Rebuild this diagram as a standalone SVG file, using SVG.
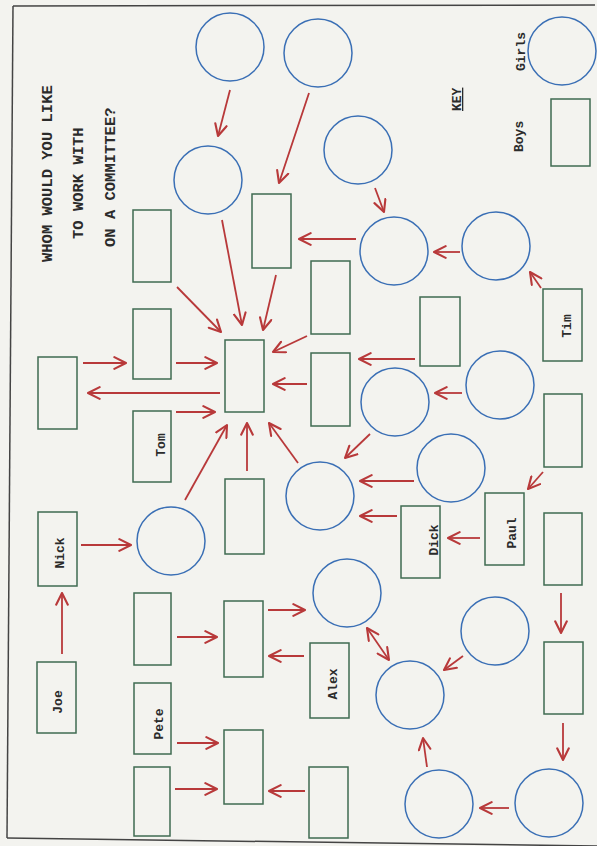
<svg xmlns="http://www.w3.org/2000/svg" width="597" height="846" viewBox="0 0 597 846">
<defs>
<marker id="ah" markerUnits="userSpaceOnUse" markerWidth="14" markerHeight="14" viewBox="0 0 12 12" refX="11" refY="6" orient="auto-start-reverse">
<path d="M1,1 L11,6 L1,11" fill="none" stroke="#b8393a" stroke-width="1.8" stroke-linecap="round" stroke-linejoin="round"/>
</marker>
</defs>
<style>
.g{fill:none;stroke:#3a6fb5;stroke-width:1.5}
.b{fill:none;stroke:#3f6b52;stroke-width:1.5}
.a{stroke:#b8393a;stroke-width:1.8;fill:none;marker-end:url(#ah)}
.t{font-family:"Liberation Mono","DejaVu Sans Mono",monospace;font-weight:bold;fill:#2b2b2b}
.lb{font-size:13px;text-anchor:middle}
.ti{font-size:15.5px}
</style>
<rect x="0" y="0" width="597" height="846" fill="#f3f3ef"/>
<g id="frame" stroke="#444" stroke-width="1.5" fill="none">
<line x1="13" y1="6" x2="595" y2="5"/>
<line x1="13" y1="6" x2="7" y2="838"/>
<line x1="7" y1="838" x2="597" y2="846"/>
</g>
<g id="title" class="t ti">
<text transform="translate(52,262) rotate(-90)">WHOM WOULD YOU LIKE</text>
<text transform="translate(83,239) rotate(-90)">TO WORK WITH</text>
<text transform="translate(115,247) rotate(-90)">ON A COMMITTEE?</text>
</g>
<g id="key">
<text class="t" font-size="13" text-decoration="underline" transform="translate(461,111) rotate(-90)">KEY</text>
<text class="t" font-size="13" transform="translate(525,71) rotate(-90)">Girls</text>
<circle class="g" cx="562" cy="51" r="34"/>
<text class="t" font-size="13" transform="translate(523,152) rotate(-90)">Boys</text>
<rect class="b" x="551" y="99" width="39" height="67"/>
</g>
<g id="connectors">
<line class="a" x1="230" y1="90" x2="218" y2="136"/>
<line class="a" x1="309" y1="93" x2="279" y2="183"/>
<line class="a" x1="375" y1="188" x2="384" y2="212"/>
<line class="a" x1="356" y1="239" x2="299" y2="239"/>
<line class="a" x1="460" y1="252" x2="434" y2="252"/>
<line class="a" x1="541" y1="288" x2="530" y2="272"/>
<line class="a" x1="177" y1="287" x2="221" y2="332"/>
<line class="a" x1="222" y1="220" x2="242" y2="325"/>
<line class="a" x1="276" y1="275" x2="263" y2="330"/>
<line class="a" x1="307" y1="336" x2="273" y2="352"/>
<line class="a" x1="307" y1="384" x2="273" y2="384"/>
<line class="a" x1="220" y1="393" x2="88" y2="393"/>
<line class="a" x1="83" y1="363" x2="126" y2="363"/>
<line class="a" x1="176" y1="363" x2="217" y2="363"/>
<line class="a" x1="176" y1="412" x2="215" y2="412"/>
<line class="a" x1="185" y1="500" x2="227" y2="425"/>
<line class="a" x1="247" y1="471" x2="247" y2="423"/>
<line class="a" x1="298" y1="463" x2="269" y2="423"/>
<line class="a" x1="81" y1="545" x2="131" y2="545"/>
<line class="a" x1="415" y1="359" x2="359" y2="359"/>
<line class="a" x1="462" y1="393" x2="435" y2="393"/>
<line class="a" x1="370" y1="434" x2="345" y2="458"/>
<line class="a" x1="543" y1="472" x2="528" y2="489"/>
<line class="a" x1="414" y1="481" x2="360" y2="481"/>
<line class="a" x1="397" y1="516" x2="360" y2="516"/>
<line class="a" x1="480" y1="538" x2="448" y2="538"/>
<line class="a" x1="62" y1="654" x2="62" y2="593"/>
<line class="a" x1="177" y1="637" x2="217" y2="637"/>
<line class="a" x1="268" y1="610" x2="305" y2="610"/>
<line class="a" x1="304" y1="656" x2="269" y2="656"/>
<line class="a" x1="177" y1="743" x2="218" y2="743"/>
<line class="a" x1="175" y1="789" x2="217" y2="789"/>
<line class="a" x1="305" y1="791" x2="269" y2="791"/>
<line class="a" x1="367" y1="628" x2="389" y2="660" marker-start="url(#ah)"/>
<line class="a" x1="463" y1="656" x2="444" y2="670"/>
<line class="a" x1="561" y1="593" x2="561" y2="633"/>
<line class="a" x1="563" y1="723" x2="563" y2="760"/>
<line class="a" x1="509" y1="808" x2="480" y2="808"/>
<line class="a" x1="427" y1="767" x2="423" y2="738"/>
</g>
<g id="girl1"><circle class="g" cx="230" cy="47" r="34"/></g>
<g id="girl2"><circle class="g" cx="318" cy="53" r="34"/></g>
<g id="girl3"><circle class="g" cx="208" cy="180" r="34"/></g>
<g id="girl4"><circle class="g" cx="358" cy="150" r="34"/></g>
<g id="girl5"><circle class="g" cx="394" cy="251" r="34"/></g>
<g id="girl6"><circle class="g" cx="496" cy="246" r="34"/></g>
<g id="girl7"><circle class="g" cx="500" cy="385" r="34"/></g>
<g id="girl8"><circle class="g" cx="395" cy="402" r="34"/></g>
<g id="girl9"><circle class="g" cx="451" cy="468" r="34"/></g>
<g id="girl10"><circle class="g" cx="320" cy="496" r="34"/></g>
<g id="girl11"><circle class="g" cx="171" cy="541" r="34"/></g>
<g id="girl12"><circle class="g" cx="347" cy="593" r="34"/></g>
<g id="girl13"><circle class="g" cx="495" cy="631" r="34"/></g>
<g id="girl14"><circle class="g" cx="410" cy="695" r="34"/></g>
<g id="girl15"><circle class="g" cx="439" cy="804" r="34"/></g>
<g id="girl16"><circle class="g" cx="549" cy="803" r="34"/></g>
<g id="boy1"><rect class="b" x="133" y="210" width="38" height="72"/></g>
<g id="boy2"><rect class="b" x="252" y="194" width="39" height="74"/></g>
<g id="boy3"><rect class="b" x="311" y="261" width="39" height="73"/></g>
<g id="boy4"><rect class="b" x="420" y="297" width="40" height="69"/></g>
<g id="boy5"><rect class="b" x="311" y="353" width="39" height="73"/></g>
<g id="tim"><rect class="b" x="543" y="289" width="39" height="72"/><text class="t lb" transform="translate(571,326) rotate(-90)">Tim</text></g>
<g id="boy6"><rect class="b" x="544" y="394" width="38" height="73"/></g>
<g id="boy7"><rect class="b" x="38" y="357" width="39" height="72"/></g>
<g id="boy8"><rect class="b" x="133" y="309" width="38" height="70"/></g>
<g id="central"><rect class="b" x="225" y="340" width="39" height="72"/></g>
<g id="tom"><rect class="b" x="133" y="411" width="38" height="71"/><text class="t lb" transform="translate(165,445) rotate(-90)">Tom</text></g>
<g id="boy9"><rect class="b" x="225" y="479" width="39" height="75"/></g>
<g id="nick"><rect class="b" x="38" y="512" width="39" height="74"/><text class="t lb" transform="translate(64,553) rotate(-90)">Nick</text></g>
<g id="paul"><rect class="b" x="485" y="493" width="39" height="72"/><text class="t lb" transform="translate(516,533) rotate(-90)">Paul</text></g>
<g id="dick"><rect class="b" x="401" y="506" width="39" height="72"/><text class="t lb" transform="translate(438,540) rotate(-90)">Dick</text></g>
<g id="boy10"><rect class="b" x="544" y="513" width="38" height="72"/></g>
<g id="boy11"><rect class="b" x="134" y="593" width="37" height="72"/></g>
<g id="boy12"><rect class="b" x="224" y="601" width="39" height="76"/></g>
<g id="alex"><rect class="b" x="310" y="643" width="39" height="75"/><text class="t lb" transform="translate(337,684) rotate(-90)">Alex</text></g>
<g id="boy13"><rect class="b" x="544" y="642" width="39" height="72"/></g>
<g id="joe"><rect class="b" x="37" y="662" width="39" height="71"/><text class="t lb" transform="translate(62,702) rotate(-90)">Joe</text></g>
<g id="pete"><rect class="b" x="134" y="683" width="37" height="71"/><text class="t lb" transform="translate(163,724) rotate(-90)">Pete</text></g>
<g id="boy14"><rect class="b" x="224" y="730" width="39" height="74"/></g>
<g id="boy15"><rect class="b" x="134" y="767" width="36" height="69"/></g>
<g id="boy16"><rect class="b" x="309" y="767" width="39" height="71"/></g>
</svg>
